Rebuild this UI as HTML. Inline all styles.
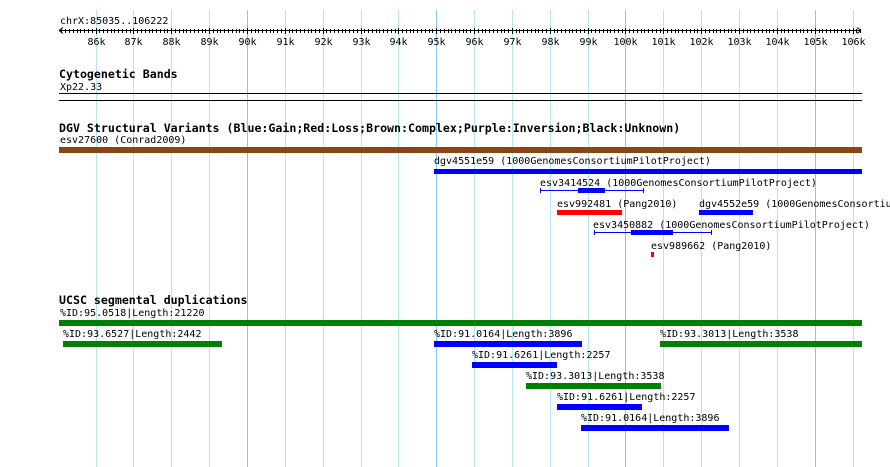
<!DOCTYPE html>
<html><head><meta charset="utf-8"><style>
html,body{margin:0;padding:0;background:#fff;width:890px;height:467px;overflow:hidden}
text{font-family:"DejaVu Sans Mono","Liberation Mono",monospace;font-size:10px;fill:#000}
.b{font-weight:bold;font-size:11.6px}
</style></head><body>
<svg width="890" height="467" xmlns="http://www.w3.org/2000/svg">
<g id="grid"></g>
<text x="60" y="24">chrX:85035..106222</text>
<line x1="59" y1="30.5" x2="861" y2="30.5" stroke="#000"/>
<path d="M59,30.5 l4,-3 M59,30.5 l4,3 M861,30.5 l-4,-3 M861,30.5 l-4,3" stroke="#000"/>
<g id="ticks"></g>
<text class="b" x="59" y="78">Cytogenetic Bands</text>
<text x="60" y="90">Xp22.33</text>
<rect x="59" y="93" width="803" height="1" fill="#000"/>
<rect x="59" y="100" width="803" height="1" fill="#000"/>
<text class="b" x="59" y="132">DGV Structural Variants (Blue:Gain;Red:Loss;Brown:Complex;Purple:Inversion;Black:Unknown)</text>
<text x="60" y="143">esv27600 (Conrad2009)</text>
<rect x="59" y="147" width="803" height="6" fill="#8b4513"/>
<text x="434" y="164">dgv4551e59 (1000GenomesConsortiumPilotProject)</text>
<rect x="434" y="169" width="428" height="5" fill="#0000ff"/>
<text x="540" y="186">esv3414524 (1000GenomesConsortiumPilotProject)</text>
<path d="M540.5,188 v5 M643.5,188 v5 M540,190.5 H644" stroke="#0000ff"/>
<rect x="578" y="188" width="27" height="5" fill="#0000ff"/>
<text x="557" y="207">esv992481 (Pang2010)</text>
<rect x="557" y="210" width="65" height="5" fill="#ff0000"/>
<text x="699" y="207">dgv4552e59 (1000GenomesConsortium</text>
<rect x="699" y="210" width="54" height="5" fill="#0000ff"/>
<text x="593" y="228">esv3450882 (1000GenomesConsortiumPilotProject)</text>
<path d="M594.5,230 v5 M711.5,230 v5 M594,232.5 H712" stroke="#0000ff"/>
<rect x="631" y="230" width="42" height="5" fill="#0000ff"/>
<text x="651" y="249">esv989662 (Pang2010)</text>
<rect x="651" y="252" width="3" height="5" fill="#ff0000"/>
<text class="b" x="59" y="304">UCSC segmental duplications</text>
<text x="60" y="316">%ID:95.0518|Length:21220</text>
<rect x="59" y="320" width="803" height="6" fill="#008000"/>
<text x="63" y="337">%ID:93.6527|Length:2442</text>
<rect x="63" y="341" width="159" height="6" fill="#008000"/>
<text x="434" y="337">%ID:91.0164|Length:3896</text>
<rect x="434" y="341" width="148" height="6" fill="#0000ff"/>
<text x="660" y="337">%ID:93.3013|Length:3538</text>
<rect x="660" y="341" width="202" height="6" fill="#008000"/>
<text x="472" y="358">%ID:91.6261|Length:2257</text>
<rect x="472" y="362" width="85" height="6" fill="#0000ff"/>
<text x="526" y="379">%ID:93.3013|Length:3538</text>
<rect x="526" y="383" width="135" height="6" fill="#008000"/>
<text x="557" y="400">%ID:91.6261|Length:2257</text>
<rect x="557" y="404" width="85" height="6" fill="#0000ff"/>
<text x="581" y="421">%ID:91.0164|Length:3896</text>
<rect x="581" y="425" width="148" height="6" fill="#0000ff"/>
</svg>
<script>
var ns="http://www.w3.org/2000/svg",g=document.getElementById("grid"),t=document.getElementById("ticks");
function X(bp){return 59+(bp-85035)*802/21187;}
for(var k=86;k<=106;k++){var x=Math.round(X(k*1000))+0.5;
 var l=document.createElementNS(ns,"line");l.setAttribute("x1",x);l.setAttribute("x2",x);l.setAttribute("y1",10);l.setAttribute("y2",467);
 l.setAttribute("stroke",k%5==0?"#87c8ee":"#b4e6ee");g.appendChild(l);
 var tx=document.createElementNS(ns,"text");tx.setAttribute("x",x);tx.setAttribute("y",45);tx.setAttribute("text-anchor","middle");tx.textContent=k+"k";t.appendChild(tx);}
for(var b=85100;b<106222;b+=100){var x=Math.round(X(b))+0.5;var big=b%1000==0;
 var l=document.createElementNS(ns,"line");l.setAttribute("x1",x);l.setAttribute("x2",x);l.setAttribute("y1",big?28:29);l.setAttribute("y2",big?34:33);l.setAttribute("stroke","#000");t.appendChild(l);}
</script>
</body></html>
